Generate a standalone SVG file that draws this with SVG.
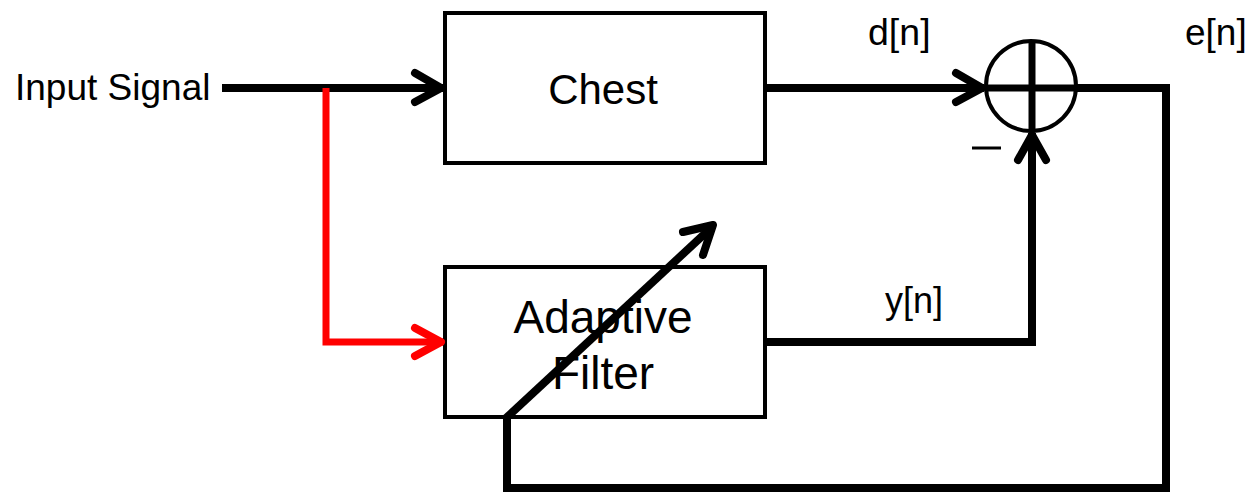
<svg xmlns="http://www.w3.org/2000/svg" width="1247" height="493" viewBox="0 0 1247 493">
<style>
.box{fill:#fff;stroke:#000;stroke-width:4}
.t{font-family:"Liberation Sans",Arial,sans-serif;fill:#000}
.w{fill:none;stroke:#000;stroke-width:8}
.ah{fill:none;stroke:#000;stroke-width:8;stroke-linecap:round;stroke-linejoin:round}
</style>
<rect width="1247" height="493" fill="#fff"/>
<g id="input-label"><text class="t" x="15" y="100" font-size="37">Input Signal</text></g>
<g id="chest"><rect class="box" x="445" y="13" width="320" height="150"/><text class="t" x="603" y="104" font-size="42" text-anchor="middle">Chest</text></g>
<g id="adaptive-filter"><rect class="box" x="445" y="267" width="320" height="150"/><text class="t" x="603" y="333" font-size="46" text-anchor="middle">Adaptive</text><text class="t" x="603" y="389" font-size="46" text-anchor="middle">Filter</text></g>
<g id="sum"><circle cx="1031" cy="86" r="45" fill="none" stroke="#000" stroke-width="4"/><line x1="1032" y1="41" x2="1032" y2="131" stroke="#000" stroke-width="7"/><line x1="986" y1="88" x2="1077" y2="88" stroke="#000" stroke-width="7"/></g>
<g id="labels">
<text class="t" x="868" y="45" font-size="37.5">d[n]</text>
<text class="t" x="1185" y="45" font-size="37">e[n]</text>
<text class="t" x="885" y="313" font-size="36">y[n]</text>
<line x1="972" y1="148" x2="1001" y2="148" stroke="#000" stroke-width="3"/>
</g>
<g id="connectors">
<line class="w" x1="222" y1="88" x2="443" y2="88"/>
<polyline class="ah" points="415,73 441,88 415,102"/>
<polyline fill="none" stroke="#f00" stroke-width="7" points="326,88 326,342 443,342"/>
<polyline fill="none" stroke="#f00" stroke-width="8" stroke-linecap="round" stroke-linejoin="round" points="415,328 441,342 415,356"/>
<line class="w" x1="765" y1="88" x2="984" y2="88"/>
<polyline class="ah" points="956,73 982,88 956,102"/>
<polyline class="w" points="765,342 1032,342 1032,133"/>
<polyline class="ah" points="1018,160 1032,135 1046,160"/>
<polyline class="w" points="1077,88 1166,88 1166,488 507,488 507,417"/>
<line class="w" x1="505" y1="419" x2="712" y2="227"/>
<polyline class="ah" points="683,232 713,225 703,255"/>
</g>
</svg>
